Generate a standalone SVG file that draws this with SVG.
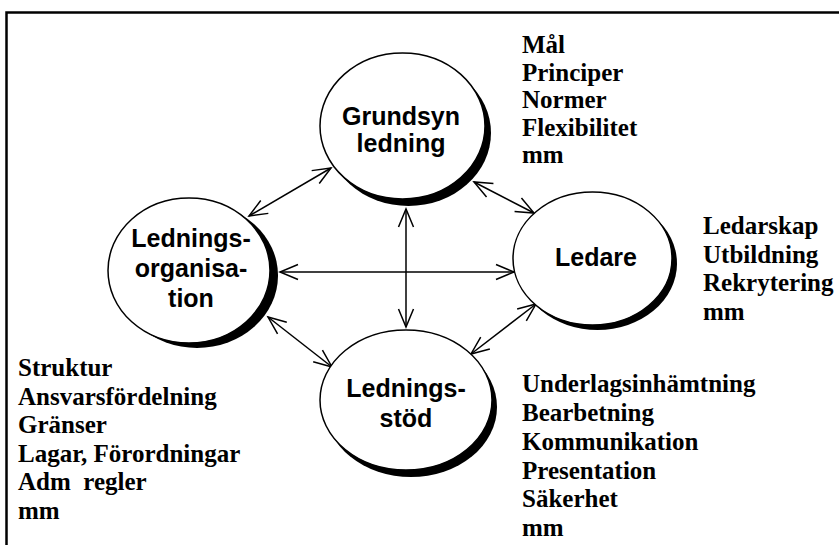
<svg xmlns="http://www.w3.org/2000/svg" width="839" height="545" viewBox="0 0 839 545">
  <style>
    .frame { fill: none; stroke: #000; stroke-width: 2.5; }
    .shadow { fill: #000; }
    .bubble { fill: #fff; stroke: #000; stroke-width: 1.5; }
    .label { font-family: "Liberation Sans", Arial, sans-serif; font-weight: bold; font-size: 25px; fill: #000; text-anchor: middle; }
    .note { font-family: "Liberation Serif", "Times New Roman", serif; font-weight: bold; font-size: 25px; fill: #000; }
    .link { fill: none; stroke: #000; stroke-width: 1.5; marker-start: url(#head); marker-end: url(#head); }
  </style>
  <defs>
    <marker id="head" markerUnits="userSpaceOnUse" markerWidth="24" markerHeight="20" viewBox="-20 -10 24 20" refX="0" refY="0" orient="auto-start-reverse">
      <path d="M-18,-7.5 L0,0 L-18,7.5" fill="none" stroke="#000" stroke-width="1.5"/>
    </marker>
  </defs>

  <rect x="6.5" y="12.5" width="845" height="545" class="frame"/>

  <!-- connectors between the four areas -->
  <g id="connectors">
    <line class="link" x1="249" y1="216" x2="331" y2="168"/>
    <line class="link" x1="474" y1="182" x2="534" y2="213"/>
    <line class="link" x1="406" y1="209" x2="406" y2="327"/>
    <line class="link" x1="280" y1="272" x2="514" y2="272"/>
    <line class="link" x1="268" y1="317" x2="332" y2="367"/>
    <line class="link" x1="471" y1="354" x2="536" y2="304"/>
  </g>

  <g id="grundsyn">
    <ellipse class="shadow" cx="408.5" cy="133" rx="82.5" ry="73"/>
    <ellipse class="bubble" cx="402.5" cy="126" rx="82.5" ry="73"/>
    <text class="label" x="401" y="125">Grundsyn</text>
    <text class="label" x="401" y="152">ledning</text>
  </g>

  <g id="ledare">
    <ellipse class="shadow" cx="597.5" cy="263.5" rx="79.5" ry="66.5"/>
    <ellipse class="bubble" cx="592.5" cy="258.5" rx="79.5" ry="66.5"/>
    <text class="label" x="596" y="266">Ledare</text>
  </g>

  <g id="ledningsorganisation">
    <ellipse class="shadow" cx="197" cy="275.5" rx="81" ry="72.5"/>
    <ellipse class="bubble" cx="189" cy="270.5" rx="81" ry="72.5"/>
    <text class="label" x="191" y="247">Lednings-</text>
    <text class="label" x="191" y="277">organisa-</text>
    <text class="label" x="191" y="307">tion</text>
  </g>

  <g id="ledningsstod">
    <ellipse class="shadow" cx="411" cy="407" rx="86" ry="70"/>
    <ellipse class="bubble" cx="406" cy="400" rx="86" ry="70"/>
    <text class="label" x="406" y="397">Lednings-</text>
    <text class="label" x="406" y="427">stöd</text>
  </g>

  <!-- side notes -->
  <g id="notes-grundsyn" class="note">
    <text x="522" y="53">Mål</text>
    <text x="522" y="80.6">Principer</text>
    <text x="522" y="108.2">Normer</text>
    <text x="522" y="135.8">Flexibilitet</text>
    <text x="522" y="163.4">mm</text>
  </g>
  <g id="notes-ledare" class="note">
    <text x="703" y="234">Ledarskap</text>
    <text x="703" y="263">Utbildning</text>
    <text x="703" y="291">Rekrytering</text>
    <text x="703" y="320">mm</text>
  </g>
  <g id="notes-organisation" class="note">
    <text x="18" y="376">Struktur</text>
    <text x="18" y="404.5">Ansvarsfördelning</text>
    <text x="18" y="433">Gränser</text>
    <text x="18" y="461.5">Lagar, Förordningar</text>
    <text x="18" y="490">Adm&#160; regler</text>
    <text x="18" y="518.5">mm</text>
  </g>
  <g id="notes-stod" class="note">
    <text x="522" y="392">Underlagsinhämtning</text>
    <text x="522" y="421">Bearbetning</text>
    <text x="522" y="450">Kommunikation</text>
    <text x="522" y="478.5">Presentation</text>
    <text x="522" y="507">Säkerhet</text>
    <text x="522" y="535.5">mm</text>
  </g>
</svg>
